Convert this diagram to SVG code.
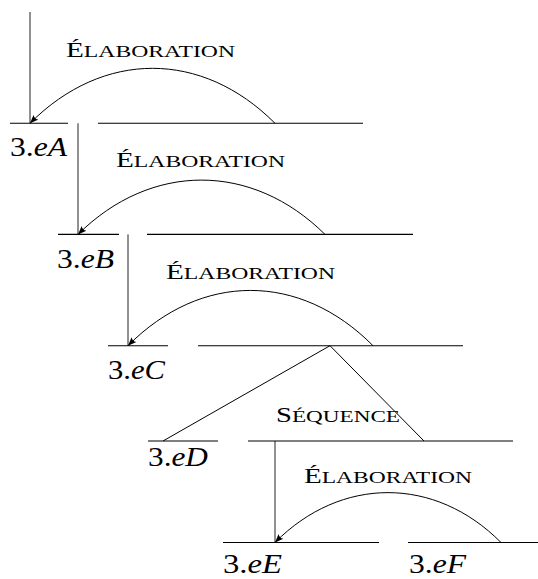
<svg xmlns="http://www.w3.org/2000/svg" width="538" height="579" viewBox="0 0 538 579">
<style>
  .seg { stroke: #000; stroke-width: 1.1; fill: none; }
  .con { stroke: #000; stroke-width: 1; fill: none; }
  .vert { stroke: #222; stroke-width: 1; fill: none; }
  .arc { stroke: #000; stroke-width: 1; fill: none; marker-end: url(#arr); }
  .leaf { font-family: "Liberation Serif", "DejaVu Serif", serif; font-size: 28px; fill: #000; }
  .leaf tspan.it { font-style: italic; }
  .rel { font-family: "Liberation Serif", "DejaVu Serif", serif; font-size: 21px; fill: #000; }
  .rel tspan.sc { font-size: 17px; }
</style>
<defs>
  <marker id="arr" markerUnits="userSpaceOnUse" markerWidth="10" markerHeight="8" refX="8.5" refY="4" orient="auto">
    <path d="M0,0.6 Q2.5,4 0,7.4 L8.5,4 Z" fill="#000"/>
  </marker>
</defs>
<rect width="538" height="579" fill="#fff"/>

<g id="connectors">
  <line class="vert" x1="30" y1="12" x2="30" y2="123.3"/>
  <path class="arc" d="M275,123.3 C202,50 103,50 30,123.3"/>
  <line class="vert" x1="78" y1="123.3" x2="78" y2="234.4"/>
  <path class="arc" d="M325,234.4 C252,162 151,162 78,234.4"/>
  <line class="vert" x1="128" y1="234.4" x2="128" y2="345.7"/>
  <path class="arc" d="M373,345.7 C300,272 201,272 128,345.7"/>
  <line class="con" x1="330" y1="345.7" x2="163" y2="441"/>
  <line class="con" x1="330" y1="345.7" x2="424" y2="441"/>
  <line class="vert" x1="275" y1="441" x2="275" y2="542.5"/>
  <path class="arc" d="M501,542.5 C435,476 341,476 275,542.5"/>
</g>

<g id="label-elab-1"><text class="rel" x="66" y="57" textLength="169" lengthAdjust="spacingAndGlyphs">É<tspan class="sc">LABORATION</tspan></text></g>
<g id="label-elab-2"><text class="rel" x="116" y="167" textLength="169" lengthAdjust="spacingAndGlyphs">É<tspan class="sc">LABORATION</tspan></text></g>
<g id="label-elab-3"><text class="rel" x="166" y="279" textLength="169" lengthAdjust="spacingAndGlyphs">É<tspan class="sc">LABORATION</tspan></text></g>
<g id="label-sequence"><text class="rel" x="276" y="422" textLength="124" lengthAdjust="spacingAndGlyphs">S<tspan class="sc">ÉQUENCE</tspan></text></g>
<g id="label-elab-4"><text class="rel" x="304" y="483" textLength="168" lengthAdjust="spacingAndGlyphs">É<tspan class="sc">LABORATION</tspan></text></g>

<g id="leaf-3eA">
  <line class="seg" x1="10" y1="123.3" x2="68" y2="123.3"/>
  <text class="leaf" x="10" y="156" textLength="57" lengthAdjust="spacingAndGlyphs">3.<tspan class="it">eA</tspan></text>
</g>
<g id="span-B-F">
  <line class="seg" x1="98" y1="123.3" x2="363" y2="123.3"/>
</g>
<g id="leaf-3eB">
  <line class="seg" x1="58" y1="234.4" x2="119" y2="234.4"/>
  <text class="leaf" x="57" y="267.5" textLength="57" lengthAdjust="spacingAndGlyphs">3.<tspan class="it">eB</tspan></text>
</g>
<g id="span-C-F">
  <line class="seg" x1="147" y1="234.4" x2="413" y2="234.4"/>
</g>
<g id="leaf-3eC">
  <line class="seg" x1="108" y1="345.7" x2="168" y2="345.7"/>
  <text class="leaf" x="108" y="378.5" textLength="57" lengthAdjust="spacingAndGlyphs">3.<tspan class="it">eC</tspan></text>
</g>
<g id="span-D-F">
  <line class="seg" x1="198" y1="345.7" x2="463" y2="345.7"/>
</g>
<g id="leaf-3eD">
  <line class="seg" x1="148" y1="441" x2="218" y2="441"/>
  <text class="leaf" x="148" y="466" textLength="60" lengthAdjust="spacingAndGlyphs">3.<tspan class="it">eD</tspan></text>
</g>
<g id="span-E-F">
  <line class="seg" x1="248" y1="441" x2="513" y2="441"/>
</g>
<g id="leaf-3eE">
  <line class="seg" x1="223" y1="542.5" x2="379" y2="542.5"/>
  <text class="leaf" x="223" y="572.5" textLength="59" lengthAdjust="spacingAndGlyphs">3.<tspan class="it">eE</tspan></text>
</g>
<g id="leaf-3eF">
  <line class="seg" x1="408" y1="542.5" x2="538" y2="542.5"/>
  <text class="leaf" x="409" y="572.5" textLength="57" lengthAdjust="spacingAndGlyphs">3.<tspan class="it">eF</tspan></text>
</g>
</svg>
